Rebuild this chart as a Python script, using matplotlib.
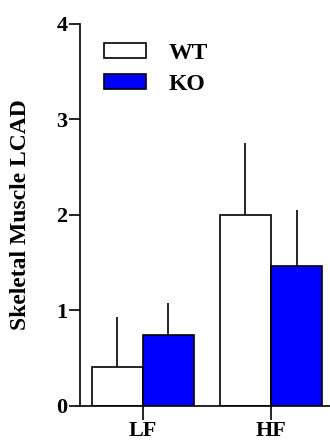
import matplotlib
matplotlib.use("Agg")
import matplotlib.pyplot as plt
import numpy as np

# data
groups = ["LF", "HF"]
series = ["WT", "KO"]
wt_mean = [0.41, 2.0]
wt_err = [0.52, 0.75]
ko_mean = [0.74, 1.47]
ko_err = [0.34, 0.58]
colors = ["white", "#0000ff"]
yticks = [0, 1, 2, 3, 4]

plt.rcParams["font.family"] = ["Liberation Serif", "DejaVu Serif"]
plt.rcParams["font.weight"] = "bold"

fig = plt.figure(figsize=(3.3, 4.41), dpi=100)
ax = fig.add_axes([0.2424, 0.0794, 0.7576, 0.8662])

x = np.arange(len(groups))
w = 0.4
lw = 1.2
for i, (means, errs) in enumerate([(wt_mean, wt_err), (ko_mean, ko_err)]):
    pos = x + (i - 0.5) * w
    ax.bar(pos, means, w, color=colors[i], edgecolor="black", linewidth=lw,
           label=series[i], zorder=2)
    ax.errorbar(pos, means, yerr=[np.zeros(len(errs)), errs], fmt="none",
                ecolor="black", elinewidth=lw, capsize=0, zorder=1)

ax.set_xlim(-0.49, 1.46)
ax.set_ylim(0, 4)
ax.set_yticks(yticks)
ax.set_xticks(x)
ax.set_xticklabels(groups)
ax.tick_params(axis="y", length=8, width=lw, labelsize=16, pad=1)
ax.tick_params(axis="x", length=10, width=lw, labelsize=16, pad=1)
for s in ["top", "right"]:
    ax.spines[s].set_visible(False)
for s in ["left", "bottom"]:
    ax.spines[s].set_linewidth(lw)
for lab in ax.get_xticklabels() + ax.get_yticklabels():
    lab.set_fontweight("bold")

ax.set_ylabel("Skeletal Muscle LCAD", fontsize=17, fontweight="bold", labelpad=18)

ax.legend(loc="upper left", bbox_to_anchor=(0.096, 0.95), frameon=False,
          fontsize=17, handlelength=1.78, handleheight=0.59, labelspacing=0.4,
          handletextpad=0.97, borderpad=0, borderaxespad=0)

fig.savefig("out.png", dpi=100)
